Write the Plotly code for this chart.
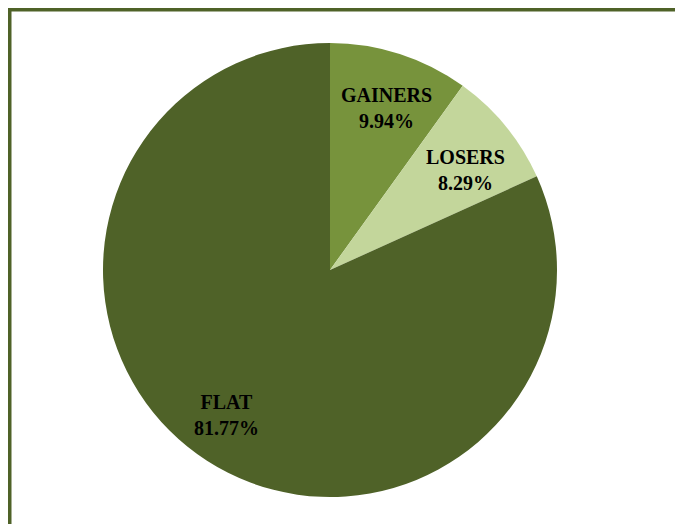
import math
import plotly.graph_objects as go

labels = ["GAINERS", "LOSERS", "FLAT"]
values = [9.94, 8.29, 81.77]
colors = ["#77933c", "#c3d69b", "#4f6228"]

W, H = 683, 524
# pie geometry in figure pixels (page is offset by the 8px body margin)
cx, cy, r = 322, 262, 227
label_r = [0.755, 0.74, 0.785]   # label distance as fraction of radius
label_da = [1.5, 2.8, 2.8]       # label angle nudge, degrees

fig = go.Figure(go.Pie(
    labels=labels,
    values=values,
    sort=False,
    direction="clockwise",
    rotation=0,
    marker=dict(colors=colors, line=dict(width=0)),
    textinfo="none",
    showlegend=False,
    hoverinfo="label+percent",
    domain=dict(x=[(cx - r) / W, (cx + r) / W], y=[(H - cy - r) / H, (H - cy + r) / H]),
))

total = sum(values)
annotations = []
start = 0.0
for lab, v, fr, da in zip(labels, values, label_r, label_da):
    frac = v / total
    mid = (start + frac / 2) * 360 + da
    start += frac
    a = math.radians(mid)
    px = cx + fr * r * math.sin(a)
    py = cy - fr * r * math.cos(a)
    annotations.append(dict(
        x=px / W, y=(H - py) / H, xref="paper", yref="paper",
        text=f"<b>{lab}<br>{frac * 100:.2f}%</b>",
        showarrow=False, xanchor="center", yanchor="middle",
        font=dict(family="Liberation Serif", size=20, color="black"),
    ))

fig.update_layout(
    width=W, height=H,
    margin=dict(l=0, r=0, t=0, b=0),
    paper_bgcolor="white",
    plot_bgcolor="white",
    annotations=annotations,
    shapes=[
        dict(type="rect", xref="paper", yref="paper",
             x0=1.75 / W, x1=1.05, y0=-0.05, y1=(H - 1.75) / H,
             line=dict(color="#4f6228", width=3.5)),
    ],
)

fig.write_html("out.html")
